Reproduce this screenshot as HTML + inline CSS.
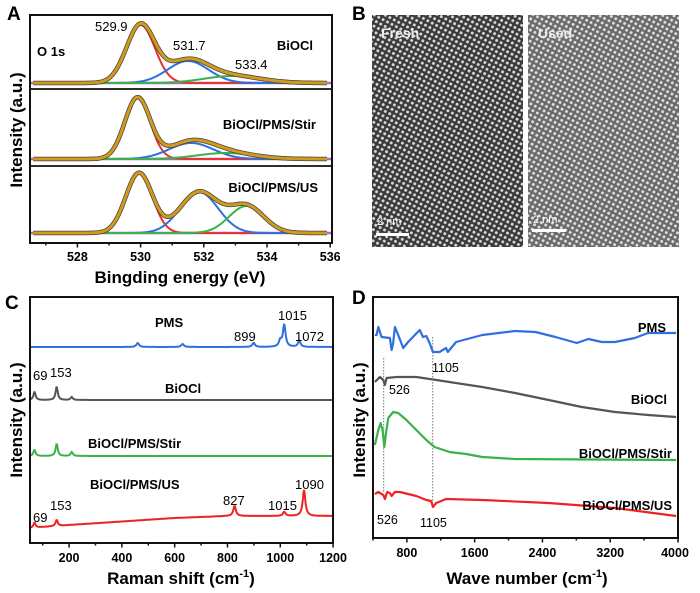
<!DOCTYPE html>
<html><head><meta charset="utf-8"><style>
body{margin:0;background:#fff}
svg{display:block;font-family:"Liberation Sans",sans-serif}
.b{font-weight:bold}
</style></head><body>
<svg id="fig" width="700" height="593" viewBox="0 0 700 593">
<defs>
<pattern id="latF" width="5" height="5" patternUnits="userSpaceOnUse" patternTransform="rotate(28)">
<rect width="5" height="5" fill="#3a3a3a"/><circle cx="2.5" cy="2.5" r="1.5" fill="#d8d8d8"/></pattern>
<pattern id="latU" width="5" height="5" patternUnits="userSpaceOnUse" patternTransform="rotate(28)">
<rect width="5" height="5" fill="#6a6a6a"/><circle cx="2.5" cy="2.5" r="1.5" fill="#dedede"/></pattern>
</defs>
<g id="A"></g>
<g id="B">
<text x="352" y="20" font-size="19" class="b">B</text>
<rect x="372" y="15" width="151" height="232" fill="url(#latF)"/>
<rect x="528" y="15" width="151" height="232" fill="url(#latU)"/>
<text x="381" y="38" font-size="14" class="b" fill="#eee">Fresh</text>
<text x="538" y="38" font-size="14" class="b" fill="#eee">Used</text>
<text x="377" y="225" font-size="11" fill="#fff">2 nm</text>
<rect x="376" y="233" width="33" height="3" fill="#fff"/>
<text x="533" y="223" font-size="11" fill="#fff">2 nm</text>
<rect x="532" y="229" width="34" height="3" fill="#fff"/>
</g>
<g id="C"></g>
<g id="D"></g>
</svg>
<script>
// ---------- Panel A data (XPS O 1s) ----------
const xpsSamples = ["BiOCl","BiOCl/PMS/Stir","BiOCl/PMS/US"];
const xpsCenters = [[530.0,531.5,532.9],[529.9,531.6,532.7],[529.95,531.85,533.35]];
const xpsHeights = [[58,22,7],[61,16,6],[60,41,27]];
const xpsWidths  = [[0.45,0.65,0.9],[0.4,0.7,0.9],[0.42,0.6,0.55]];
const xpsTicks = [528,530,532,534,536];
const xpsPeakLabels = ["529.9","531.7","533.4"];
// ---------- Panel C data (Raman) ----------
const ramanSamples = ["PMS","BiOCl","BiOCl/PMS/Stir","BiOCl/PMS/US"];
const ramanPeakPos = [[460,630,899,1000,1015,1072],[69,153,210],[69,153,210],[69,153,827,1015,1090]];
const ramanPeakHt  = [[4,3,4,6,22,6],[8,13,3],[6,12,4],[5,6,10,4,26]];
const ramanBaseX = [52,200,600,800,1200];
const ramanUSBase = [0,3,10,12,12];
const ramanTicks = [200,400,600,800,1000,1200];
// ---------- Panel D data (FTIR) ----------
const ftirSamples = ["PMS","BiOCl","BiOCl/PMS/Stir","BiOCl/PMS/US"];
const pmsWn = [423,443,462,502,599,619,638,658,697,756,814,951,990,1029,1068,1107,1185,1263,1283,1381,1689,2076,2318,2553,2806,2943,3100,3256,3490,3646,3978];
const pmsI  = [205,205,213,203,202,190,197,213,205,192,198,210,203,204,197,188,188,192,188,198,205,209,208,203,197,201,198,198,202,207,207];
const biWn = [423,482,521,541,560,677,911,1302,1689,2076,2474,2865,3256,3646,3978];
const biI  = [158,163,160,155,162,163,163,158,153,147,140,133,128,125,123];
const stirWn = [423,462,490,513,533,553,580,638,697,794,911,1029,1126,1302,1498,1689,2076,3978];
const stirI  = [95,110,117,110,93,107,122,128,127,120,110,100,93,88,86,83,81,80];
const usWn = [423,462,521,541,568,599,619,658,716,911,970,1029,1087,1107,1146,1263,1689,2474,3256,3978];
const usI  = [46,48,45,41,48,47,44,48,48,44,42,40,39,33,37,41,40,37,32,24];
const ftirTicks = [800,1600,2400,3200,4000];

const NS="http://www.w3.org/2000/svg";
function mk(parent,tag,attrs,txt){const e=document.createElementNS(NS,tag);for(const k in attrs)e.setAttribute(k,attrs[k]);if(txt!==undefined)e.textContent=txt;parent.appendChild(e);return e;}
function frame(g,x0,y0,x1,y1){const r=mk(g,'rect',{x:x0,y:y0,width:x1-x0,height:y1-y0,fill:'none',stroke:'#111','stroke-width':2});

}

// ===== Panel A =====
(function(){
const g=document.getElementById('A');
const X0=30,X1=332,Y0=15,Y1=243;
const sx=e=>X0+(e-526.5)*31.6;
const bases=[83,159,233];
const gauss=(e,c,h,s)=>h*Math.exp(-(e-c)*(e-c)/(2*s*s));
const cols=['#e8322d','#2f6fe0','#3cb14a'];
xpsSamples.forEach((name,i)=>{
  const b=bases[i];
  const sg=mk(g,'g',{});
  
  
  const bl=mk(sg,'line',{x1:X0+1,x2:X1-1,y1:b,y2:b,stroke:'#a46ad6','stroke-width':2.5});
  
  
  for(let k=0;k<3;k++){
    let d='';for(let e=526.6;e<=535.9;e+=0.03){d+=(d?'L':'M')+sx(e).toFixed(1)+','+(b-gauss(e,xpsCenters[i][k],xpsHeights[i][k],xpsWidths[i][k])).toFixed(1);}
    const p=mk(sg,'path',{d:d,fill:'none',stroke:cols[k],'stroke-width':2});
    
    
  }
  let d='';
  for(let e=526.6;e<=535.9;e+=0.03){let s=0;for(let k=0;k<3;k++)s+=gauss(e,xpsCenters[i][k],xpsHeights[i][k],xpsWidths[i][k]);
    const y=b-s;d+=(d?'L':'M')+sx(e).toFixed(1)+','+y.toFixed(1);}
  const raw=mk(sg,'path',{d:d,fill:'none',stroke:'#444','stroke-width':4.5});
  
  
  const env=mk(sg,'path',{d:d,fill:'none',stroke:'#d09a1c','stroke-width':3});
  
  
  const lb=mk(g,'text',{x:[313,316,318][i],y:[50,129,192][i],'font-size':13,'font-weight':'bold','text-anchor':'end'},name);
  
  
});
[89,166].forEach(y=>{const l=mk(g,'line',{x1:X0,x2:X1,y1:y,y2:y,stroke:'#111','stroke-width':1.8});

});
frame(g,X0,Y0,X1,Y1);
for(let e=527;e<=536;e++){const t=mk(g,'line',{x1:sx(e),x2:sx(e),y1:Y1,y2:Y1+(e%2?2.5:4.5),stroke:'#111','stroke-width':1.5});

}
xpsTicks.forEach(v=>{const t=mk(g,'text',{x:sx(v),y:261,'font-size':12.5,'font-weight':'bold','text-anchor':'middle'},v);

});
const pl=[[95,31],[173,50],[235,69]];
xpsPeakLabels.forEach((s,i)=>{const t=mk(g,'text',{x:pl[i][0],y:pl[i][1],'font-size':13},s);

});
let t=mk(g,'text',{x:37,y:56,'font-size':13,'font-weight':'bold'},'O 1s');


t=mk(g,'text',{x:180,y:283,'font-size':17,'font-weight':'bold','text-anchor':'middle'},'Bingding energy (eV)');


t=mk(g,'text',{x:0,y:0,'font-size':17,'font-weight':'bold','text-anchor':'middle',transform:'translate(22,130) rotate(-90)'},'Intensity (a.u.)');


t=mk(g,'text',{x:7,y:20,'font-size':19,'font-weight':'bold'},'A');


})();

// ===== Panel C =====
(function(){
const g=document.getElementById('C');
const X0=30,X1=333,Y0=297,Y1=543;
const sx=v=>X0+(v-52)*0.264;
const bases=[347,400,456,528];
const cols=['#2f6fe0','#555','#3cb14a','#ee2222'];
function baseUS(v){for(let i=0;i<ramanBaseX.length-1;i++){if(v<=ramanBaseX[i+1]){const f=(v-ramanBaseX[i])/(ramanBaseX[i+1]-ramanBaseX[i]);return ramanUSBase[i]+f*(ramanUSBase[i+1]-ramanUSBase[i]);}}return ramanUSBase[ramanUSBase.length-1];}
ramanSamples.forEach((name,i)=>{
  let d='';
  for(let v=54;v<=1198;v+=2){
    let s=i===3?baseUS(v):0;
    ramanPeakPos[i].forEach((c,k)=>{const w=(c>400?6:5);s+=ramanPeakHt[i][k]/(1+((v-c)/w)**2);});
    d+=(d?'L':'M')+sx(v).toFixed(1)+','+(bases[i]-s).toFixed(1);
  }
  const p=mk(g,'path',{d:d,fill:'none',stroke:cols[i],'stroke-width':2});
  
  
});
frame(g,X0,Y0,X1,Y1);
for(let v=100;v<=1200;v+=100){const t=mk(g,'line',{x1:sx(v),x2:sx(v),y1:Y1,y2:Y1+(v%200?2.5:4.5),stroke:'#111','stroke-width':1.5});

}
ramanTicks.forEach(v=>{const t=mk(g,'text',{x:sx(v),y:562,'font-size':12.5,'font-weight':'bold','text-anchor':'middle'},v);

});
const labs=[['PMS',155,327,1],['BiOCl',165,393,1],['BiOCl/PMS/Stir',88,448,1],['BiOCl/PMS/US',90,489,1],
['1015',278,320,0],['899',234,341,0],['1072',295,341,0],['69',33,380,0],['153',50,377,0],
['69',33,522,0],['153',50,510,0],['827',223,505,0],['1015',268,510,0],['1090',295,489,0]];
labs.forEach(l=>{const t=mk(g,'text',{x:l[1],y:l[2],'font-size':13,'font-weight':l[3]?'bold':'normal'},l[0]);

});
let t=mk(g,'text',{x:181,y:584,'font-size':17,'font-weight':'bold','text-anchor':'middle'},'Raman shift (cm');


mk(t,'tspan',{dy:-7,'font-size':11},'-1');
mk(t,'tspan',{dy:7},')');
t=mk(g,'text',{x:0,y:0,'font-size':17,'font-weight':'bold','text-anchor':'middle',transform:'translate(22,420) rotate(-90)'},'Intensity (a.u.)');


t=mk(g,'text',{x:5,y:309,'font-size':19,'font-weight':'bold'},'C');


})();

// ===== Panel D =====
(function(){
const g=document.getElementById('D');
const X0=373,X1=678,Y0=297,Y1=538;
const sx=v=>X0+(v-400)*((X1-X0)/3600);
const sy=I=>540-I;
const sets=[[pmsWn,pmsI,'#2f6fe0'],[biWn,biI,'#555'],[stirWn,stirI,'#3cb14a'],[usWn,usI,'#ee2222']];
[[526,358,493],[1105,337,503]].forEach(m=>{const l=mk(g,'line',{x1:sx(m[0]),x2:sx(m[0]),y1:m[1],y2:m[2],stroke:'#777','stroke-width':1,'stroke-dasharray':'1.5,1.5'});

});
sets.forEach((s,i)=>{
  let d='';s[0].forEach((v,k)=>{d+=(k?'L':'M')+sx(v).toFixed(1)+','+sy(s[1][k]).toFixed(1);});
  const p=mk(g,'path',{d:d,fill:'none',stroke:s[2],'stroke-width':2.2,'stroke-linejoin':'round'});
  
  
});
frame(g,X0,Y0,X1,Y1);
for(let v=400;v<=4000;v+=400){const t=mk(g,'line',{x1:sx(v),x2:sx(v),y1:Y1,y2:Y1+(v%800?2.5:4.5),stroke:'#111','stroke-width':1.5});

}
ftirTicks.forEach(v=>{const t=mk(g,'text',{x:sx(v)-(v===4000?3:0),y:557,'font-size':12.5,'font-weight':'bold','text-anchor':'middle'},v);

});
const labs=[['PMS',666,332,1],['BiOCl',667,404,1],['BiOCl/PMS/Stir',672,458,1],['BiOCl/PMS/US',672,510,1]];
labs.forEach(l=>{const t=mk(g,'text',{x:l[1],y:l[2],'font-size':13,'font-weight':'bold','text-anchor':'end'},l[0]);

});
[['1105',432,372],['526',389,394],['526',377,524],['1105',420,527]].forEach(l=>{const t=mk(g,'text',{x:l[1],y:l[2],'font-size':12.5},l[0]);

});
let t=mk(g,'text',{x:527,y:584,'font-size':17,'font-weight':'bold','text-anchor':'middle'},'Wave number (cm');


mk(t,'tspan',{dy:-7,'font-size':11},'-1');
mk(t,'tspan',{dy:7},')');
t=mk(g,'text',{x:0,y:0,'font-size':17,'font-weight':'bold','text-anchor':'middle',transform:'translate(365,420) rotate(-90)'},'Intensity (a.u.)');


t=mk(g,'text',{x:352,y:304,'font-size':19,'font-weight':'bold'},'D');


})();
</script>
</body></html>
